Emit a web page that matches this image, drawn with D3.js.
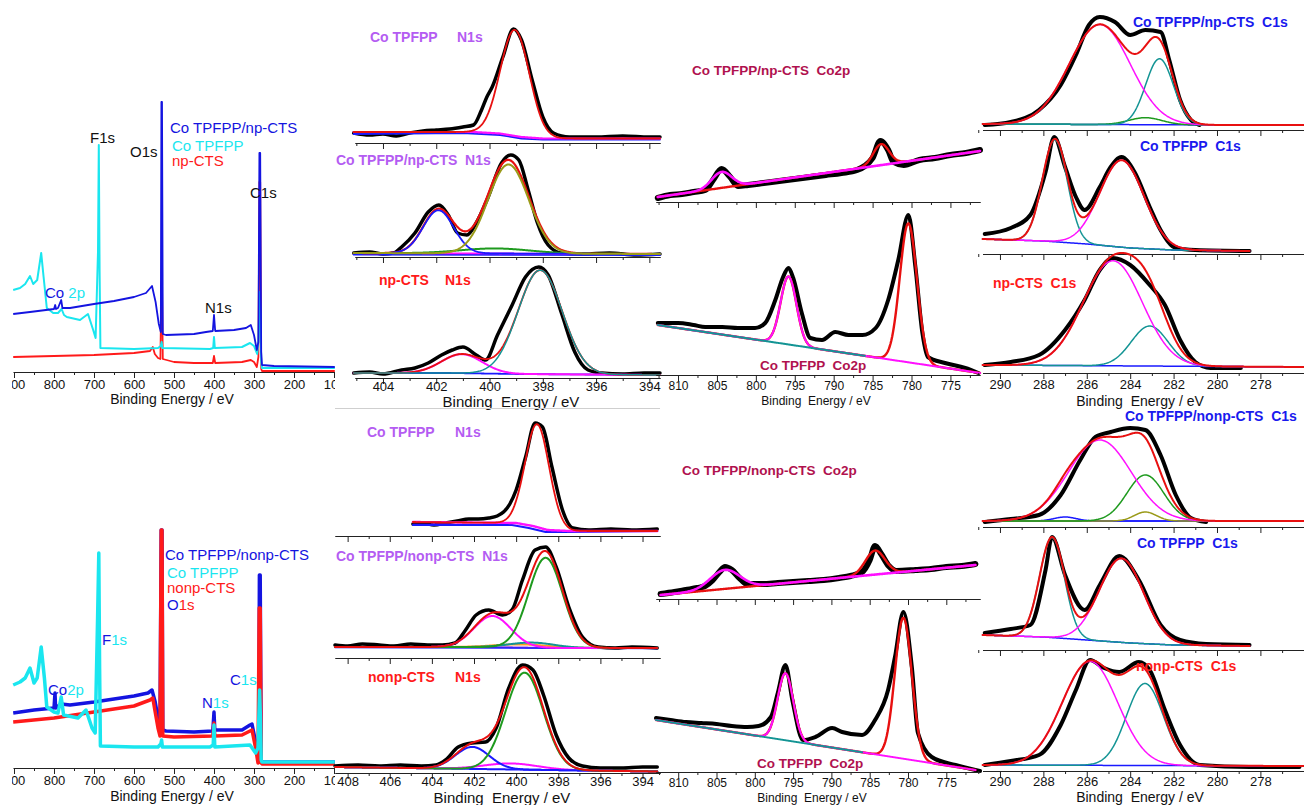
<!DOCTYPE html>
<html>
<head>
<meta charset="utf-8">
<title>XPS spectra</title>
<script src="https://d3js.org/d3.v7.min.js"></script>
<style>
  body { margin: 0; background: #fff; }
  svg { display: block; font-family: "Liberation Sans", Arial, sans-serif; }
  text { white-space: pre; }
</style>
</head>
<body>
<div id="chart"></div>
<script>
// ---------- survey spectra: [binding energy (eV), intensity (a.u.)] ----------
const surveyTicks = [900, 800, 700, 600, 500, 400, 300, 200, 100];
const surveyMinor = [850, 750, 650, 550, 450, 350, 250, 150];

const surveyNpHybrid = [[902,58],[860,60],[820,62],[800,63],[797,67],[795,63],[790,64],[782,72],[779,64],[760,64],[700,68],[650,71],[600,75],[570,79],[555,86],[546,70],[538,48],[533,40],[531.5,270],[530,270],[528,38],[520,37],[450,38],[420,40],[403,41],[400,57],[397,41],[350,42],[320,44],[308,47],[300,37],[293,22],[289,30],[286.5,219],[284.5,219],[282,20],[280,7],[250,6],[98,5]];
const surveyNpPorph = [[902,82],[885,84],[872,88],[860,96],[852,88],[842,92],[832,119],[826,95],[818,64],[802,59],[790,59],[781,63],[775,57],[768,55],[735,52],[715,58],[702,42],[696,34],[690,120],[688,227],[686,100],[684,24],[600,23],[540,24],[533,26],[531,30],[529,24],[410,23],[402,24],[400,35],[398,24],[330,25],[310,29],[300,26],[292,18],[289,30],[286,80],[284,60],[282,10],[280,4],[98,4]];
const surveyNpCts = [[902,15],[800,16],[700,17],[600,19],[560,21],[553,25],[548,18],[540,14],[534,13],[531.5,90],[530,90],[528,13],[500,10],[450,9],[403,9],[400,16],[397,9],[330,10],[308,12],[300,10],[293,5],[289,15],[286.5,190],[284.5,190],[282,3],[280,1],[98,1]];

const surveyNonpHybrid = [[902,55],[850,58],[800,60],[797.5,75],[796,60],[782,64],[760,63],[700,66],[650,69],[600,72],[565,75],[555,78],[547,66],[540,50],[535,40],[532,238],[530,238],[528,38],[520,37],[450,36],[403,37],[400,56],[398,38],[330,38],[310,43],[305,44],[298,30],[292,15],[288,30],[286.5,193],[284.5,193],[282,8],[280,6],[98,6]];
const surveyNonpCts = [[902,46],[800,50],[700,56],[600,62],[560,68],[553,70],[547,56],[540,40],[535,32],[532,238],[530,238],[528,32],[500,31],[403,32],[400,45],[398,32],[330,33],[305,38],[296,20],[290,5],[287,160],[284.5,160],[282,5],[280,4],[98,4]];
const surveyNonpPorph = [[902,83],[885,86],[872,90],[860,100],[850,85],[842,90],[832,121],[824,90],[818,61],[800,56],[790,55],[782,71],[776,53],[740,50],[720,58],[705,40],[697,35],[691,150],[688,215],[686,100],[684,22],[600,21],[540,21],[533,24],[531,28],[529,21],[410,21],[402,23],[400,43],[398,21],[310,23],[296,15],[290,20],[286,78],[284,50],[282,8],[280,6],[98,6]];

// ---------- N1s: raw points, backgrounds, fitted peaks {c: centre eV, h: height, w: FWHM eV} ----------
const n1sTopTicks = [404, 402, 400, 398, 396, 394];
const n1sTopMinor = [405, 403, 401, 399, 397, 395];
const n1sBotTicks = [408, 406, 404, 402, 400, 398, 396, 394];
const n1sBotMinor = [407, 405, 403, 401, 399, 397, 395];

const nA_raw = [[405.1,8],[404.5,6],[404,7],[403.5,5],[403,8],[402.5,10],[402,11],[401.5,12],[401,14],[400.6,16],[400.3,31],[400.1,44],[399.9,54],[399.5,84],[399.1,112],[398.8,101],[398.4,61],[398,24],[397.6,8],[397,4],[396,4],[395,5],[394,4],[393.6,4]];
const nA_bg = [[405.1,9],[400.6,9],[399.6,7.5],[398.8,4],[398,2.5],[393.6,2.5]];
const nA_bg2 = [[405.1,7],[401,8],[399.6,6],[398.8,2.5],[398,1.5],[393.6,1.5]];
const nA_peaks = [{c:399.05, h:106, w:1.28}];

const nB_raw = [[405.1,2],[404.5,3],[404,1],[403.6,2],[403.3,8],[402.8,22],[402.3,43],[401.9,50],[401.55,40],[401.2,22],[400.85,20],[400.5,32],[400.05,58],[399.55,92],[399.2,100],[398.9,95],[398.55,65],[398.2,32],[397.8,10],[397.3,2],[396.5,1],[395.5,2],[394.5,0],[393.6,1]];
const nB_bg = [[405.1,2],[393.6,1]];
const nB_bg2 = [[405.1,0.5],[393.6,0]];
const nB_peaks = [{c:401.92, h:43, w:1.35}, {c:399.29, h:89, w:1.8}, {c:399.8, h:5, w:3.1}];

const nC_raw = [[405.1,4],[404.5,5],[404,3],[403.3,7],[402.8,9],[402.3,14],[401.8,22],[401.4,27],[401,30],[400.5,22],[400.15,17],[399.7,42],[399.15,72],[398.65,100],[398.15,110],[397.8,102],[397.3,64],[396.8,25],[396.3,7],[395.8,4],[395,3],[394.2,4],[393.6,4]];
const nC_bg = [[405.1,4],[401.5,4],[399,3],[393.6,2]];
const nC_peaks = [{c:398.1, h:104, w:1.95}, {c:401.04, h:19, w:1.8}];

const nD_raw = [[404.9,10],[404.4,11],[403.9,9],[403.35,11],[402.8,13],[402.25,15],[401.8,15],[401.3,16],[400.9,18],[400.6,22],[400.3,30],[400,44],[399.55,77],[399.1,111],[398.75,107],[398.3,67],[397.8,24],[397.3,6],[396.55,4],[395.5,5],[394.5,4],[393.3,5]];
const nD_bg = [[404.9,12],[400,11],[399.2,8],[398.5,4],[397.5,3],[393.3,3]];
const nD_bg2 = [[404.9,9],[400.2,9],[399.4,6],[398.6,2],[397.5,2],[393.3,3]];
const nD_peaks = [{c:399.0, h:103, w:1.35}];

const nE_raw = [[408.6,12],[408,11],[407.3,13],[406.5,12],[405.8,11],[405,13],[404.2,12],[403.5,12],[402.9,14],[402.4,27],[401.9,42],[401.3,47],[400.65,42],[400.2,47],[399.7,77],[399.1,107],[398.6,110],[398.1,90],[397.5,50],[396.85,20],[396.1,10],[395.3,9],[394.5,10],[393.3,9]];
const nE_bg = [[408.6,10],[401,10],[398,9],[393.3,9]];
const nE_peaks = [{c:398.6, h:90, w:1.9}, {c:401.13, h:31, w:2.05}, {c:399.23, h:5, w:2.5}, {c:399.7, h:3, w:3}];

const nF_raw = [[408.6,7],[407.5,8],[406.5,7],[405.5,8],[404.5,7],[403.8,8],[403.35,13],[402.75,26],[402.1,30],[401.45,31],[400.95,45],[400.35,85],[399.7,108],[399.2,103],[398.7,78],[398.1,38],[397.5,15],[396.85,7],[396,5],[395,5],[394,6],[393.3,6]];
const nF_bg = [[408.6,6],[393.3,1.5]];
const nF_peaks = [{c:399.6, h:97, w:2.1}, {c:402.08, h:22, w:1.9}, {c:400.25, h:6, w:3}];

// ---------- Co2p ----------
const co2pTicks = [810, 805, 800, 795, 790, 785, 780, 775];
const co2pMinor = [812.5, 807.5, 802.5, 797.5, 792.5, 787.5, 782.5, 777.5, 772.5];

const cG_raw = [[812.6,4],[811,7],[809.5,8],[808,10],[806.5,12],[805.5,22],[804.4,33],[803.3,25],[802.3,16],[801,17],[799,19],[797,21],[795,23],[793,25],[791,27],[789,29],[787,32],[786,36],[785,44],[784,61],[783,52],[782.3,40],[781,37],[779,42],[777,44],[775,47],[773,49],[771.2,52]];
const cG_bg = [[812.6,5],[771.2,51]];
const cG_peaks = [{c:804.4, h:16, w:3.0}, {c:783.9, h:21, w:2.4}];

const cH_raw = [[812.6,52],[810,52],[808,50],[806.5,48],[804.3,48],[802.3,47],[800.1,47],[798.8,52],[797.5,75],[796.5,98],[795.8,107],[795.2,97],[794.1,62],[793,37],[791.5,35],[789.8,43],[788.1,40],[786.3,40],[784.6,47],[783,75],[781.7,115],[780.4,160],[779.5,108],[778.6,42],[777.9,18],[775.7,12],[773.1,7],[771.4,2]];
const cH_bg = [[812.6,50],[771.2,2]];
const cH_peaks = [{c:795.8, h:68, w:2.4}, {c:780.4, h:139, w:2.6}];

const cI_raw = [[812.3,4],[810.5,6],[809,8],[807.5,10],[806.5,12],[805.5,18],[804.5,27],[803.9,31],[803,28],[802,20],[801,14],[799,14],[797,15],[795,16],[793,17],[791,18],[789,20],[787.5,22],[786,26],[785,38],[784.3,52],[783.5,44],[782.5,32],[781.5,27],[779,28],[777,29],[775,31],[773,32],[771.2,34]];
const cI_bg = [[812.3,3],[771.2,33]];
const cI_peaks = [{c:803.9, h:19, w:4.5}, {c:784.3, h:24, w:3.0}];

const cJ_raw = [[812.9,54],[811,52],[809,50],[807,49],[805,48],[803,46],[801,45],[799.5,46],[797.9,55],[797,79],[796,107],[795.1,72],[793.7,32],[792.1,35],[789.9,44],[788.6,40],[786,37],[784.3,52],[782.6,82],[781.7,115],[780.6,160],[779.5,105],[778.7,39],[776.9,15],[773.8,7],[771.2,2],[770.6,1]];
const cJ_bg = [[812.9,52],[771.2,2]];
const cJ_peaks = [{c:796.0, h:67, w:2.4}, {c:780.6, h:141, w:2.6}];

// ---------- C1s ----------
const c1sTicks = [290, 288, 286, 284, 282, 280, 278];
const c1sMinor = [291, 289, 287, 285, 283, 281, 279, 277];

const cK_raw = [[290.7,3],[289.5,6],[288.2,18],[287.2,43],[286.5,73],[285.9,103],[285.4,111],[284.7,106],[284,93],[283.3,98],[282.6,96],[282.2,68],[281.7,28],[281.2,8],[280.8,3]];
const cK_bg = [[290.8,4],[280,3],[276,3]];
const cK_peaks = [{c:285.4, h:100, w:3.3}, {c:282.65, h:66, w:1.5}, {c:283.3, h:7, w:1.8}];

const cL_raw = [[290.7,18],[289.5,24],[288.6,37],[287.9,80],[287.5,115],[287,85],[286.5,55],[286.1,42],[285.4,65],[284.9,85],[284.4,95],[283.8,80],[283.1,45],[282.6,22],[281.9,4],[281,2],[278.5,1]];
const cL_bg = [[290.8,13],[288,11],[286,8],[284,4],[282,2],[278.5,1]];
const cL_peaks = [{c:287.47, h:102, w:1.35}, {c:284.38, h:87, w:2.4}];

const cM_raw = [[290.7,5],[289.5,8],[288.2,15],[287,40],[286.1,70],[285.4,100],[284.8,112],[284,105],[283.1,85],[282.4,65],[281.7,30],[281,8],[280.3,2],[278.9,2]];
const cM_bg = [[290.8,5],[276,3]];
const cM_peaks = [{c:284.8, h:105, w:3.2}, {c:283.1, h:40, w:2.0}];

const cN_raw = [[290.7,2],[289.5,5],[288.2,9],[287.2,29],[286.3,64],[285.6,87],[284.9,92],[284,96],[283.3,94],[282.6,69],[281.9,29],[281.2,6],[280.5,2]];
const cN_bg = [[290.8,3],[276,3]];
const cN_peaks = [{c:285.4, h:81, w:3.4}, {c:283.3, h:46, w:2.0}, {c:283.3, h:9, w:1.2}, {c:287.0, h:4, w:1.2}];

const cO_raw = [[290.7,14],[289.5,18],[288.6,22],[287.9,77],[287.6,110],[287,72],[286.1,37],[285.4,62],[284.5,91],[283.6,67],[282.6,22],[281.7,7],[280.5,3],[278.5,2]];
const cO_bg = [[290.8,12],[288,10],[286,7],[284,4],[282,2],[278.5,1]];
const cO_peaks = [{c:287.6, h:100, w:1.35}, {c:284.4, h:84, w:2.4}];

const cP_raw = [[290.7,4],[289.5,8],[288.2,14],[287.2,44],[286.5,79],[285.85,109],[285.2,101],[284.5,97],[283.6,107],[283.1,99],[282.4,59],[281.7,24],[280.8,4],[278.5,2],[276.2,2]];
const cP_bg = [[290.8,4],[276,3]];
const cP_peaks = [{c:285.85, h:104, w:3.0}, {c:283.32, h:82, w:2.0}];

// ---------- drawing ----------
const W = 1304, H = 805;
const COL = {
  sBlue: "#1414e0", sCyan: "#1ae6ef", sRed: "#ff1a1a",
  fit: "#e81010", magenta: "#ff10ff", blue: "#1a1aff", olive: "#9a9a18", green: "#1e9a1e",
  teal: "#139494", orange: "#ff9a20", purple: "#9a40e0",
  violet: "#b45cf2", crimson: "#b0114e", labelRed: "#ff1a1a", labelBlue: "#1a1aee"
};

const svg = d3.select("#chart").append("svg").attr("width", W).attr("height", H);
const defs = svg.append("defs");
defs.append("clipPath").attr("id", "cSurvey").append("rect")
  .attr("x", 12).attr("y", -1000).attr("width", 323).attr("height", 3000);

const gauss = (p, e) => p.h * Math.exp(-4 * Math.LN2 * (e - p.c) * (e - p.c) / (p.w * p.w));
const piecewise = pts => d3.scaleLinear().domain(pts.map(d => d[0])).range(pts.map(d => d[1])).clamp(true);

function drawAxis(x, yPos, majors, minors, o) {
  const g = svg.append("g").attr("transform", "translate(0," + yPos + ")");
  if (o.clip) g.attr("clip-path", "url(#" + o.clip + ")");
  g.append("g").call(d3.axisBottom(x).tickValues(minors).tickSize(3).tickSizeOuter(0).tickFormat(""));
  const major = g.append("g")
    .call(d3.axisBottom(x).tickValues(majors).tickSize(6).tickSizeOuter(0).tickFormat(o.labels ? d3.format("d") : ""));
  major.attr("font-size", o.fs || 13).attr("font-family", null);
  major.selectAll("text").attr("y", o.labelDy).attr("dy", null).attr("fill", "#111");
  g.selectAll(".domain, .tick line").attr("stroke", "#222");
}

function label(x, y, parts, o) {
  const t = svg.append("text").attr("x", x).attr("y", y)
    .attr("font-size", o.fs).attr("font-weight", o.bold ? "bold" : "normal")
    .attr("text-anchor", o.anchor || "start");
  parts.forEach(p => {
    const ts = t.append("tspan").attr("fill", p[1]).text(p[0]);
    if (p[2] != null) ts.attr("x", p[2]);
  });
}

// survey panels
const xSurvey = d3.scaleLinear().domain([902, 98]).range([13.2, 334.8]);
function drawSurvey(y, series, axisY) {
  const g = svg.append("g").attr("clip-path", "url(#cSurvey)");
  const ln = d3.line().x(d => xSurvey(d[0])).y(d => y(d[1]));
  series.forEach(s => {
    g.append("path").datum(s.data)
      .attr("fill", "none").attr("stroke", s.color).attr("stroke-width", s.w)
      .attr("stroke-linejoin", "round").attr("d", ln);
  });
  drawAxis(xSurvey, axisY, surveyTicks, surveyMinor, {labels: true, fs: 13, labelDy: 17, clip: "cSurvey"});
}

const ySurveyTop = d3.scaleLinear().domain([0, 280]).range([372, 92]);
drawSurvey(ySurveyTop, [
  {data: surveyNpCts, color: COL.sRed, w: 1.8},
  {data: surveyNpPorph, color: COL.sCyan, w: 2},
  {data: surveyNpHybrid, color: COL.sBlue, w: 1.8}
], 372);
label(172, 404, [["Binding Energy / eV", "#111"]], {fs: 14, anchor: "middle"});
label(170, 133, [["Co TPFPP/np-CTS", COL.sBlue]], {fs: 15});
label(172, 151, [["Co TPFPP", COL.sCyan]], {fs: 15});
label(172, 166, [["np-CTS", COL.sRed]], {fs: 15});
label(90, 143, [["F1s", "#111"]], {fs: 15});
label(130, 157, [["O1s", "#111"]], {fs: 15});
label(250, 198, [["C1s", "#111"]], {fs: 15});
label(205, 313, [["N1s", "#111"]], {fs: 15});
label(45, 298, [["Co ", COL.sBlue], ["2p", COL.sCyan]], {fs: 15});

const ySurveyBot = d3.scaleLinear().domain([0, 290]).range([768, 478]);
drawSurvey(ySurveyBot, [
  {data: surveyNonpHybrid, color: COL.sBlue, w: 3.5},
  {data: surveyNonpCts, color: COL.sRed, w: 3.5},
  {data: surveyNonpPorph, color: COL.sCyan, w: 3.5}
], 768);
label(172, 801, [["Binding Energy / eV", "#111"]], {fs: 14, anchor: "middle"});
label(165, 560, [["Co TPFPP/nonp-CTS", COL.sBlue]], {fs: 15});
label(167, 578, [["Co TPFPP", COL.sCyan]], {fs: 15});
label(167, 593, [["nonp-CTS", COL.sRed]], {fs: 15});
label(167, 610, [["O", COL.sBlue], ["1s", COL.sRed]], {fs: 15});
label(102, 645, [["F", COL.sBlue], ["1s", COL.sCyan]], {fs: 15});
label(48, 695, [["Co", COL.sBlue], ["2p", COL.sCyan]], {fs: 15});
label(230, 685, [["C", COL.sBlue], ["1s", COL.sCyan]], {fs: 15});
label(202, 708, [["N", COL.sBlue], ["1s", COL.sCyan]], {fs: 15});

// fitted high-resolution panels
function drawFit(s) {
  const g = svg.append("g");
  const x = s.x, y = s.y;
  const bgf = piecewise(s.bg);
  const e0 = s.bg[0][0], e1 = s.bg[s.bg.length - 1][0];
  const grid = d3.range(0, 401).map(i => e0 + (e1 - e0) * i / 400);
  const ln = d3.line().x(d => x(d[0])).y(d => y(d[1]));
  s.layers.forEach(l => {
    let pts, curve = d3.curveLinear, w = l.w || 1.8;
    if (l.kind === "raw") { pts = s.raw; curve = d3.curveMonotoneX; w = s.rawW; }
    else if (l.kind === "bg") {
      pts = l.pts ? l.pts : grid.map(e => [e, bgf(e)]);
      if (l.from != null) pts = pts.filter(d => d[0] <= l.from && d[0] >= l.to);
    }
    else if (l.kind === "peak") pts = grid.map(e => [e, bgf(e) + gauss(s.peaks[l.i], e)]);
    else if (l.kind === "env") pts = grid.map(e => [e, bgf(e) + d3.sum(s.peaks, p => gauss(p, e))]);
    g.append("path").datum(pts)
      .attr("fill", "none").attr("stroke", l.kind === "raw" ? "#000" : l.color)
      .attr("stroke-width", w).attr("stroke-linejoin", "round").attr("stroke-linecap", "round")
      .attr("d", ln.curve(curve));
  });
}

// N1s column
const xN1top = d3.scaleLinear().domain([405.05, 393.6]).range([355, 660]);
const xN1bot = d3.scaleLinear().domain([408.6, 393.17]).range([335, 660]);

drawFit({x: xN1top, y: d3.scaleLinear().domain([0, 122]).range([141, 19]), raw: nA_raw, rawW: 3.5, bg: nA_bg, peaks: nA_peaks,
  layers: [{kind: "raw"}, {kind: "bg", pts: nA_bg2, color: COL.blue}, {kind: "bg", color: COL.magenta, w: 2.2}, {kind: "env", color: COL.fit}]});
drawAxis(xN1top, 143, n1sTopTicks, n1sTopMinor, {labels: false});
label(370, 42, [["Co TPFPP", COL.violet], ["N1s", COL.violet, 457]], {fs: 14, bold: true});

drawFit({x: xN1top, y: d3.scaleLinear().domain([0, 112]).range([255, 143]), raw: nB_raw, rawW: 3.5, bg: nB_bg, peaks: nB_peaks,
  layers: [{kind: "raw"}, {kind: "bg", pts: nB_bg2, color: COL.blue}, {kind: "bg", color: COL.magenta}, {kind: "env", color: COL.fit, w: 2.2},
           {kind: "peak", i: 2, color: COL.green, w: 2}, {kind: "peak", i: 0, color: COL.blue}, {kind: "peak", i: 1, color: COL.olive, w: 2}]});
drawAxis(xN1top, 257, n1sTopTicks, n1sTopMinor, {labels: false});
label(336, 165, [["Co TPFPP/np-CTS  N1s", COL.violet]], {fs: 14, bold: true});

drawFit({x: xN1top, y: d3.scaleLinear().domain([0, 119]).range([377, 258]), raw: nC_raw, rawW: 3.5, bg: nC_bg, peaks: nC_peaks,
  layers: [{kind: "raw"}, {kind: "bg", color: COL.blue}, {kind: "peak", i: 1, color: COL.magenta, w: 2}, {kind: "env", color: COL.fit}, {kind: "peak", i: 0, color: COL.teal, w: 1.5}]});
drawAxis(xN1top, 378, n1sTopTicks, n1sTopMinor, {labels: true, fs: 13, labelDy: 13});
label(379, 285, [["np-CTS", COL.labelRed], ["N1s", COL.labelRed, 445]], {fs: 14, bold: true});
label(511, 407, [["Binding  Energy / eV", "#111"]], {fs: 15, anchor: "middle"});

svg.append("line").attr("x1", 335).attr("x2", 660).attr("y1", 408.5).attr("y2", 408.5).attr("stroke", "#cfcfcf");

drawFit({x: xN1bot, y: d3.scaleLinear().domain([0, 124]).range([534, 410]), raw: nD_raw, rawW: 3.5, bg: nD_bg, peaks: nD_peaks,
  layers: [{kind: "raw"}, {kind: "bg", pts: nD_bg2, color: COL.blue, w: 2}, {kind: "bg", color: COL.magenta, w: 2.4}, {kind: "env", color: COL.fit}]});
drawAxis(xN1bot, 536, n1sBotTicks, n1sBotMinor, {labels: false});
label(367, 437, [["Co TPFPP", COL.violet], ["N1s", COL.violet, 455]], {fs: 14, bold: true});

drawFit({x: xN1bot, y: d3.scaleLinear().domain([0, 117]).range([657, 540]), raw: nE_raw, rawW: 3.5, bg: nE_bg, peaks: nE_peaks,
  layers: [{kind: "raw"}, {kind: "bg", color: COL.purple}, {kind: "peak", i: 3, color: COL.orange, w: 2}, {kind: "peak", i: 2, color: COL.teal, w: 2},
           {kind: "bg", pts: [[408.6, 9.5], [393.3, 8.5]], color: COL.blue, w: 1.5},
           {kind: "peak", i: 1, color: COL.magenta, w: 2}, {kind: "peak", i: 0, color: COL.green, w: 2}, {kind: "env", color: COL.fit, w: 2}]});
drawAxis(xN1bot, 658, n1sBotTicks, n1sBotMinor, {labels: false});
label(336, 561, [["Co TPFPP/nonp-CTS  N1s", COL.violet]], {fs: 14, bold: true});

drawFit({x: xN1bot, y: d3.scaleLinear().domain([0, 111]).range([773, 662]), raw: nF_raw, rawW: 3.5, bg: nF_bg, peaks: nF_peaks,
  layers: [{kind: "raw"}, {kind: "bg", color: COL.blue, w: 2}, {kind: "peak", i: 2, color: COL.magenta, w: 2}, {kind: "peak", i: 1, color: COL.blue, w: 2},
           {kind: "peak", i: 0, color: COL.green, w: 2}, {kind: "env", color: COL.fit, w: 2}]});
drawAxis(xN1bot, 773, n1sBotTicks, n1sBotMinor, {labels: true, fs: 13, labelDy: 13});
label(368, 682, [["nonp-CTS", COL.labelRed], ["N1s", COL.labelRed, 455]], {fs: 14, bold: true});
label(502, 803, [["Binding  Energy / eV", "#111"]], {fs: 15, anchor: "middle"});

// Co2p column
const xCoTop = d3.scaleLinear().domain([812.83, 771.2]).range([656, 980]);
const xCoBot = d3.scaleLinear().domain([812.9, 770.6]).range([656, 980]);

drawFit({x: xCoTop, y: d3.scaleLinear().domain([0, 100]).range([202, 102]), raw: cG_raw, rawW: 6, bg: cG_bg, peaks: cG_peaks,
  layers: [{kind: "raw"}, {kind: "peak", i: 1, color: COL.fit, w: 2.4}, {kind: "peak", i: 0, color: COL.magenta, w: 2.6}]});
drawAxis(xCoTop, 202, co2pTicks, co2pMinor, {labels: false});
label(692, 75, [["Co TPFPP/np-CTS  Co2p", COL.crimson]], {fs: 13.5, bold: true});

drawFit({x: xCoTop, y: d3.scaleLinear().domain([0, 170]).range([375, 205]), raw: cH_raw, rawW: 4, bg: cH_bg, peaks: cH_peaks,
  layers: [{kind: "raw"}, {kind: "env", color: COL.fit, w: 2.4}, {kind: "peak", i: 0, color: COL.magenta, w: 2},
           {kind: "bg", color: COL.teal, from: 812.6, to: 786, w: 2}]});
drawAxis(xCoTop, 375, co2pTicks, co2pMinor, {labels: true, fs: 12, labelDy: 15});
label(760, 370, [["Co TPFPP  Co2p", COL.crimson]], {fs: 13.5, bold: true});
label(816, 405, [["Binding  Energy / eV", "#111"]], {fs: 12, anchor: "middle"});

drawFit({x: xCoBot, y: d3.scaleLinear().domain([0, 100]).range([598, 498]), raw: cI_raw, rawW: 6, bg: cI_bg, peaks: cI_peaks,
  layers: [{kind: "raw"}, {kind: "peak", i: 1, color: COL.fit, w: 2.4}, {kind: "peak", i: 0, color: COL.magenta, w: 2.6}]});
drawAxis(xCoBot, 599, co2pTicks, co2pMinor, {labels: false});
label(682, 475, [["Co TPFPP/nonp-CTS  Co2p", COL.crimson]], {fs: 13.5, bold: true});

drawFit({x: xCoBot, y: d3.scaleLinear().domain([0, 170]).range([772, 602]), raw: cJ_raw, rawW: 4, bg: cJ_bg, peaks: cJ_peaks,
  layers: [{kind: "raw"}, {kind: "env", color: COL.fit, w: 2.4}, {kind: "peak", i: 0, color: COL.magenta, w: 2},
           {kind: "bg", color: COL.teal, from: 812.9, to: 786, w: 2}]});
drawAxis(xCoBot, 772, co2pTicks, co2pMinor, {labels: true, fs: 12, labelDy: 15});
label(757, 768, [["Co TPFPP  Co2p", COL.crimson]], {fs: 13.5, bold: true});
label(812, 802, [["Binding  Energy / eV", "#111"]], {fs: 12, anchor: "middle"});

// C1s column
const xC1 = d3.scaleLinear().domain([290.8, 276]).range([982.6, 1303.8]);

drawFit({x: xC1, y: d3.scaleLinear().domain([0, 120]).range([128, 8]), raw: cK_raw, rawW: 4, bg: cK_bg, peaks: cK_peaks,
  layers: [{kind: "raw"}, {kind: "bg", color: COL.blue, w: 1.5}, {kind: "peak", i: 2, color: COL.green, w: 1.5}, {kind: "peak", i: 1, color: COL.teal, w: 1.5},
           {kind: "peak", i: 0, color: COL.magenta, w: 1.5}, {kind: "env", color: COL.fit, w: 2}]});
drawAxis(xC1, 130, c1sTicks, c1sMinor, {labels: false});
label(1133, 27, [["Co TPFPP/np-CTS  C1s", COL.labelBlue]], {fs: 14, bold: true});

drawFit({x: xC1, y: d3.scaleLinear().domain([0, 115]).range([252, 137]), raw: cL_raw, rawW: 4, bg: cL_bg, peaks: cL_peaks,
  layers: [{kind: "raw"}, {kind: "bg", color: COL.blue, w: 1.5}, {kind: "peak", i: 0, color: COL.teal, w: 1.5},
           {kind: "peak", i: 1, color: COL.magenta, w: 1.5}, {kind: "env", color: COL.fit, w: 2}]});
drawAxis(xC1, 254, c1sTicks, c1sMinor, {labels: false});
label(1140, 151, [["Co TPFPP  C1s", COL.labelBlue]], {fs: 14, bold: true});

drawFit({x: xC1, y: d3.scaleLinear().domain([0, 115]).range([370, 255]), raw: cM_raw, rawW: 4, bg: cM_bg, peaks: cM_peaks,
  layers: [{kind: "raw"}, {kind: "bg", color: COL.blue, w: 1.5}, {kind: "peak", i: 1, color: COL.teal, w: 1.5},
           {kind: "peak", i: 0, color: COL.magenta, w: 1.5}, {kind: "env", color: COL.fit, w: 2}]});
drawAxis(xC1, 373, c1sTicks, c1sMinor, {labels: true, fs: 13, labelDy: 16});
label(993, 288, [["np-CTS  C1s", COL.labelRed]], {fs: 14, bold: true});
label(1140, 406, [["Binding  Energy / eV", "#111"]], {fs: 14, anchor: "middle"});

drawFit({x: xC1, y: d3.scaleLinear().domain([0, 115]).range([524, 409]), raw: cN_raw, rawW: 4, bg: cN_bg, peaks: cN_peaks,
  layers: [{kind: "raw"}, {kind: "bg", color: COL.blue, w: 1.5}, {kind: "peak", i: 3, color: COL.blue, w: 1.5}, {kind: "peak", i: 2, color: COL.olive, w: 1.5},
           {kind: "peak", i: 1, color: COL.green, w: 1.5}, {kind: "peak", i: 0, color: COL.magenta, w: 1.5}, {kind: "env", color: COL.fit, w: 2}]});
drawAxis(xC1, 527, c1sTicks, c1sMinor, {labels: false});
label(1125, 421, [["Co TPFPP/nonp-CTS  C1s", COL.labelBlue]], {fs: 14, bold: true});

drawFit({x: xC1, y: d3.scaleLinear().domain([0, 115]).range([647, 532]), raw: cO_raw, rawW: 4, bg: cO_bg, peaks: cO_peaks,
  layers: [{kind: "raw"}, {kind: "bg", color: COL.blue, w: 1.5}, {kind: "peak", i: 0, color: COL.teal, w: 1.5},
           {kind: "peak", i: 1, color: COL.magenta, w: 1.5}, {kind: "env", color: COL.fit, w: 2}]});
drawAxis(xC1, 650, c1sTicks, c1sMinor, {labels: false});
label(1137, 548, [["Co TPFPP  C1s", COL.labelBlue]], {fs: 14, bold: true});

drawFit({x: xC1, y: d3.scaleLinear().domain([0, 115]).range([769, 654]), raw: cP_raw, rawW: 4, bg: cP_bg, peaks: cP_peaks,
  layers: [{kind: "raw"}, {kind: "bg", color: COL.blue, w: 1.5}, {kind: "peak", i: 1, color: COL.teal, w: 1.5},
           {kind: "peak", i: 0, color: COL.magenta, w: 1.5}, {kind: "env", color: COL.fit, w: 2}]});
drawAxis(xC1, 771, c1sTicks, c1sMinor, {labels: true, fs: 13, labelDy: 15});
label(1136, 671, [["nonp-CTS  C1s", COL.labelRed]], {fs: 14, bold: true});
label(1140, 802, [["Binding  Energy / eV", "#111"]], {fs: 14, anchor: "middle"});
</script>
</body>
</html>
